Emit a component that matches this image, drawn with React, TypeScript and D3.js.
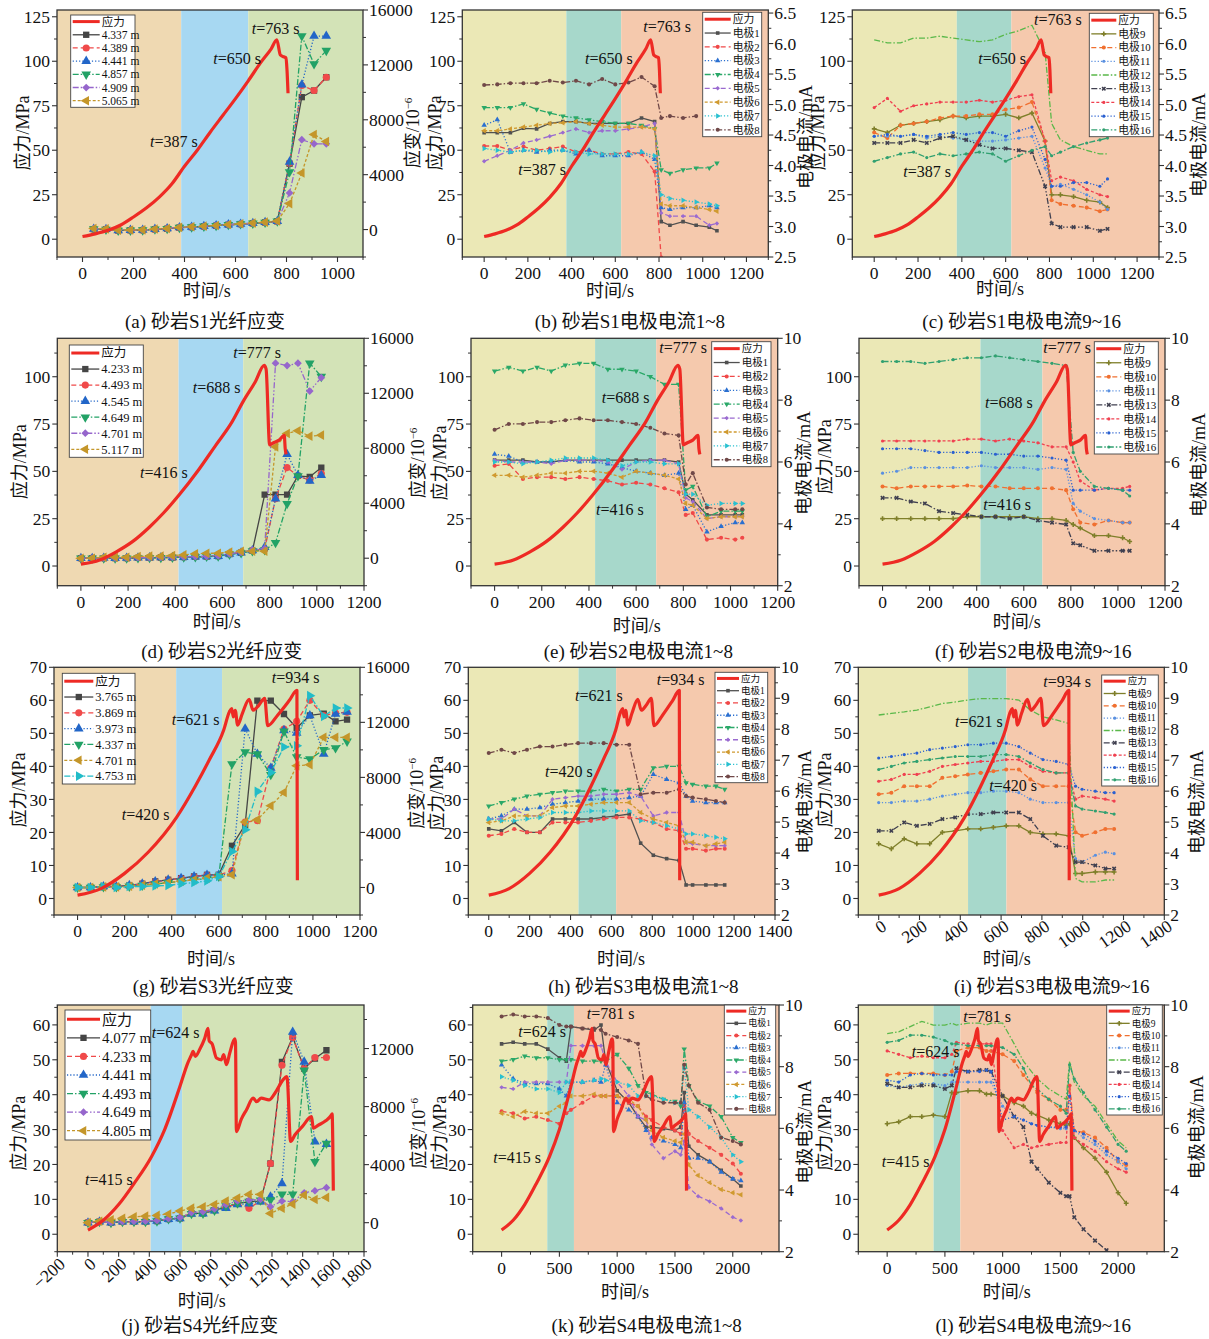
import React from 'react';
import * as d3 from 'd3';

// ---------- stress curves (MPa) ----------
const s1Time = [0, 50, 100, 150, 200, 250, 300, 350, 400, 450, 500, 550, 600, 650, 700, 740, 762, 776, 789, 798, 802, 806];
const s1Stress = [1.5, 3, 5, 8, 12.5, 17.5, 23.5, 31, 41, 50, 60, 69.5, 79, 89, 99.5, 107, 112, 103.5, 102.5, 102, 95, 82];
const s2Time = [0, 80, 150, 220, 290, 350, 416, 500, 570, 640, 688, 740, 777, 785, 800, 815, 840, 862, 866, 870];
const s2Stress = [1, 3.2, 7.5, 13, 20.5, 28, 37.5, 51, 63.5, 76, 87, 97.5, 106, 104, 64, 65, 66.5, 69, 62, 59];
const s3Time = [0, 100, 200, 300, 420, 500, 560, 621, 645, 655, 662, 670, 680, 700, 729, 746, 770, 795, 808, 850, 900, 932, 934];
const s3Stress = [1, 3, 7.6, 14, 24.5, 34, 42, 51, 56.5, 57.5, 55, 57, 52.5, 56, 60.3, 57, 58.5, 60.6, 52.3, 55.5, 60, 63, 5.5];
const s4Time = [0, 100, 200, 300, 415, 500, 600, 650, 675, 685, 700, 729, 760, 783, 790, 810, 838, 870, 885, 903, 925, 957, 962, 968, 1000, 1034, 1077, 1100, 1130, 1180, 1220, 1273, 1295, 1300, 1321, 1350, 1400, 1458, 1469, 1500, 1550, 1588, 1592, 1600];
const s4Stress = [1.2, 4, 8.5, 14.5, 22.3, 30, 42.4, 49, 51.4, 52.4, 51, 53, 56, 59, 55.5, 54.5, 50.5, 50, 51.5, 48.6, 52, 56, 55, 29.4, 33, 35.7, 39, 38, 39, 38.5, 40.5, 44.3, 45.2, 44.5, 26.6, 28.5, 31, 33.7, 30.4, 31.2, 32.5, 34.2, 34.5, 12.5];

// ---------- stage boundaries (s) ----------
const bandA = [387, 650];
const bandB = [376, 627];
const bandC = [377, 626];
const bandD = [414, 688];
const bandE = [426, 685];
const bandF = [416, 679];
const bandG = [419, 614];
const bandH = [439, 623];
const bandI = [438, 626];
const bandJ = [409, 614];
const bandK = [395, 626];
const bandL = [402, 633];

// ---------- fibre strain (10^-6) ----------
const timeA = [44, 92, 140, 188, 236, 284, 332, 380, 428, 476, 524, 572, 620, 668, 716, 764, 812, 860, 908, 956];
const strainA1 = [30, 10, -60, -50, -40, 20, 60, 140, 180, 230, 280, 350, 400, 450, 520, 600, 4800, 9650, 10130, 11100];
const strainA2 = [20, 0, -80, -60, -50, 10, 60, 130, 170, 220, 270, 340, 390, 440, 510, 590, 4850, 10500, 10130, 11100];
const strainA3 = [40, 20, -60, -40, -30, 30, 70, 150, 190, 240, 290, 360, 410, 460, 530, 610, 4930, 10550, 14100, 14100];
const strainA4 = [30, 0, -70, -60, -40, 20, 60, 140, 180, 230, 280, 350, 400, 450, 520, 600, 4200, 14100, 12070, 13040];
const strainA5 = [60, 40, -50, -40, -30, 30, 70, 150, 190, 240, 290, 360, 410, 460, 530, 600, 2670, 6550, 6250, 6250];
const strainA6 = [80, 50, -40, -30, -20, 40, 80, 160, 200, 250, 300, 370, 420, 470, 540, 620, 1890, 4120, 6930, 6420];
const namesA = ['4.337 m', '4.389 m', '4.441 m', '4.857 m', '4.909 m', '5.065 m'];

const timeD = [0, 48, 97, 145, 194, 242, 291, 339, 388, 436, 485, 533, 582, 630, 679, 727, 779, 825, 874, 920, 970, 1019];
const strainD1 = [0, 0, 0, 0, 0, 30, 30, 50, 50, 80, 100, 120, 150, 300, 400, 550, 4623, 4623, 4623, 5985, 5912, 6594];
const strainD2 = [0, 10, 10, 10, 10, 40, 40, 60, 60, 90, 110, 130, 160, 310, 410, 560, 650, 4330, 6594, 5985, 5670, 6155];
const strainD3 = [0, 0, 10, 0, 10, 30, 40, 50, 60, 80, 100, 130, 150, 300, 400, 560, 800, 4330, 7567, 6034, 5620, 6034];
const strainD4 = [0, 0, 0, 0, 0, 20, 30, 40, 50, 70, 90, 120, 140, 280, 380, 520, 600, 1120, 3966, 5985, 14185, 13211];
const strainD5 = [0, 10, 10, 10, 20, 40, 50, 60, 70, 90, 120, 140, 170, 320, 420, 600, 700, 14185, 14014, 14185, 12165, 13138];
const strainD6 = [0, 0, 70, 70, 70, 120, 150, 150, 190, 240, 320, 360, 360, 440, 510, 510, 510, 8102, 9075, 9270, 8880, 8953];
const namesD = ['4.233 m', '4.493 m', '4.545 m', '4.649 m', '4.701 m', '5.117 m'];

const timeG = [0, 55, 110, 165, 220, 275, 330, 385, 440, 495, 550, 600, 656, 712, 764, 821, 877, 931, 987, 1046, 1096, 1145];
const strainG1 = [0, 0, 70, 70, 150, 270, 440, 560, 680, 800, 920, 920, 3030, 4557, 13575, 13575, 12605, 11587, 12508, 12630, 12071, 12193];
const strainG2 = [0, 0, 60, 70, 140, 260, 420, 540, 660, 780, 900, 900, 1236, 4751, 4848, 8678, 11514, 12071, 13600, 12484, 12678, 12726];
const strainG3 = [0, 0, 70, 70, 150, 260, 430, 550, 660, 790, 900, 900, 1000, 11538, 9696, 8678, 11417, 11223, 12500, 9700, 12600, 12750];
const strainG4 = [0, 0, 30, 30, 80, 150, 250, 350, 450, 550, 650, 800, 8969, 9841, 9696, 8193, 11344, 9478, 9332, 10011, 10132, 10617];
const strainG5 = [0, 0, 40, 40, 90, 160, 260, 360, 460, 560, 680, 780, 921, 4751, 4921, 5939, 6908, 8848, 8921, 10908, 10908, 10908];
const strainG6 = [0, 0, 70, 0, 70, 70, 120, 150, 270, 360, 480, 800, 2618, 4194, 6981, 8363, 10205, 10302, 13938, 12435, 13041, 13041];
const namesG = ['3.765 m', '3.869 m', '3.973 m', '4.337 m', '4.701 m', '4.753 m'];

const timeJ = [0, 75, 150, 225, 300, 375, 450, 525, 600, 675, 750, 825, 900, 975, 1050, 1125, 1190, 1265, 1335, 1410, 1480, 1555];
const strainJ1 = [0, 70, 0, 70, 70, 70, 115, 250, 300, 640, 640, 870, 1050, 1330, 1440, 1490, 4080, 11080, 12800, 10620, 11310, 11880];
const strainJ2 = [0, 60, 10, 60, 60, 80, 120, 260, 320, 650, 660, 880, 1060, 1300, 990, 1500, 4080, 10850, 12760, 10620, 11380, 11380];
const strainJ3 = [0, 60, 0, 60, 60, 70, 110, 240, 290, 600, 620, 820, 1000, 1250, 1300, 1450, 1790, 2700, 13140, 11080, 5570, 5410];
const strainJ4 = [0, 60, 0, 60, 60, 70, 110, 250, 300, 620, 640, 850, 1150, 1350, 1450, 1550, 1560, 1950, 1950, 10500, 4200, 5460];
const strainJ5 = [0, 70, 20, 80, 90, 100, 150, 280, 350, 700, 760, 950, 1250, 1500, 1550, 1600, 1100, 1490, 1450, 2060, 2200, 2410];
const strainJ6 = [0, 100, 200, 300, 410, 450, 500, 600, 800, 1000, 1100, 1250, 1490, 1700, 1950, 1950, 640, 990, 1280, 1900, 1600, 1740];
const namesJ = ['4.077 m', '4.233 m', '4.441 m', '4.493 m', '4.649 m', '4.805 m'];

// ---------- electrode current (mA) ----------
const timeB = [0, 60, 120, 180, 240, 300, 360, 420, 480, 540, 600, 660, 720, 780, 810, 850, 910, 970, 1030, 1065];
const curB1 = [4.54, 4.54, 4.54, 4.61, 4.60, 4.69, 4.72, 4.72, 4.69, 4.69, 4.69, 4.69, 4.78, 4.72, 3.08, 3.02, 3.08, 3.02, 2.99, 2.93];
const curB2 = [4.32, 4.32, 4.25, 4.31, 4.25, 4.28, 4.31, 4.22, 4.25, 4.19, 4.19, 4.22, 4.19, 3.90, 2.49, null, null, null, null, null];
const curB3 = [4.66, 4.75, 4.22, 4.25, 4.22, 4.25, 4.25, 4.19, 4.25, 4.16, 4.16, 4.16, 4.22, 4.10, 3.31, 3.28, 3.31, 3.31, 3.34, 3.31];
const curB4 = [4.95, 4.95, 4.95, 5.01, 4.92, 4.86, 4.81, 4.78, 4.75, 4.72, 4.69, 4.69, 4.66, 4.60, 3.93, 3.87, 3.93, 3.96, 3.96, 4.04];
const curB5 = [4.07, 4.16, 4.25, 4.37, 4.42, 4.48, 4.54, 4.60, 4.54, 4.57, 4.57, 4.60, 4.63, 4.69, 3.22, 3.17, 3.17, 3.17, 3.02, 3.05];
const curB6 = [4.57, 4.57, 4.60, 4.63, 4.66, 4.69, 4.70, 4.72, 4.69, 4.66, 4.63, 4.63, 4.63, 4.60, 3.37, 3.34, 3.34, 3.31, 3.28, 3.25];
const curB7 = [4.28, 4.25, 4.22, 4.25, 4.25, 4.22, 4.25, 4.22, 4.19, 4.19, 4.19, 4.19, 4.22, 4.16, 3.52, 3.46, 3.43, 3.40, 3.37, 3.34];
const curB8 = [5.32, 5.33, 5.35, 5.35, 5.35, 5.39, 5.36, 5.39, 5.33, 5.42, 5.33, 5.36, 5.45, 5.30, 4.78, 4.81, 4.78, 4.81, null, null];

const curC9 = [4.60, 4.54, 4.66, 4.69, 4.72, 4.75, 4.81, 4.78, 4.81, 4.81, 4.84, 4.78, 4.86, 4.40, 3.52, 3.52, 3.49, 3.43, 3.40, 3.31];
const curC10 = [4.54, 4.45, 4.66, 4.69, 4.72, 4.78, 4.81, 4.81, 4.84, 4.84, 4.92, 4.95, 5.04, 4.40, 3.43, 3.37, 3.34, 3.31, 3.25, 3.28];
const curC11 = [4.48, 4.48, 4.48, 4.51, 4.45, 4.48, 4.45, 4.42, 4.40, 4.40, 4.42, 4.45, 4.48, 3.96, 3.66, 3.69, 3.61, 3.52, 3.40, 3.28];
const curC12 = [6.06, 6.01, 6.01, 6.09, 6.09, 6.12, 6.09, 6.06, 6.03, 6.06, 6.15, 6.21, 6.30, 5.86, 4.69, 4.42, 4.31, 4.25, 4.19, 4.19];
const curC13 = [4.37, 4.37, 4.37, 4.42, 4.37, 4.45, 4.48, 4.42, 4.34, 4.28, 4.28, 4.25, 4.22, 3.66, 3.05, 2.99, 2.99, 2.99, 2.93, 2.96];
const curC14 = [4.95, 5.10, 4.89, 4.98, 5.01, 5.04, 5.04, 5.04, 5.07, 5.04, 5.07, 5.13, 5.16, 4.40, 3.75, 3.81, 3.75, 3.61, 3.52, 3.49];
const curC15 = [4.48, 4.51, 4.48, 4.51, 4.48, 4.51, 4.54, 4.51, 4.54, 4.54, 4.48, 4.57, 4.63, 4.10, 3.66, 3.66, 3.72, 3.72, 3.66, 3.78];
const curC16 = [4.07, 4.13, 4.19, 4.22, 4.13, 4.19, 4.16, 4.19, 4.22, 4.19, 4.07, 4.16, 4.25, 4.31, 4.16, 4.22, 4.31, 4.37, 4.42, 4.45];

const timeE = [0, 60, 120, 180, 240, 300, 360, 420, 480, 540, 600, 660, 720, 780, 810, 840, 900, 960, 1020, 1050];
const curE1 = [6.06, 6.06, 6.06, 6.00, 6.00, 6.06, 6.06, 6.06, 6.06, 6.06, 6.06, 6.06, 6.06, 6.00, 4.96, 4.78, 4.29, 4.29, 4.29, 4.29];
const curE2 = [5.88, 5.94, 5.45, 5.51, 5.51, 5.45, 5.51, 5.45, 5.39, 5.27, 5.33, 5.27, 5.15, 5.02, 4.29, 4.35, 3.49, 3.55, 3.49, 3.55];
const curE3 = [6.25, 6.19, 6.00, 6.00, 6.00, 6.06, 6.00, 6.00, 5.94, 5.82, 5.70, 5.64, 5.57, 5.64, 4.47, 4.60, 3.74, 3.92, 4.04, 4.04];
const curE4 = [8.94, 9.06, 8.94, 9.06, 8.94, 9.13, 9.19, 9.19, 9.00, 9.00, 8.94, 8.76, 8.51, 8.51, 5.09, 5.21, 4.23, 4.41, 4.41, 4.41];
const curE5 = [6.06, 6.00, 6.00, 6.00, 5.94, 6.06, 6.06, 6.06, 6.00, 5.76, 6.00, 6.06, 6.06, 5.94, 4.84, 4.72, 4.17, 4.23, 4.23, 4.23];
const curE6 = [5.57, 5.57, 5.51, 5.57, 5.64, 5.64, 5.70, 5.70, 5.64, 5.51, 5.70, 5.64, 5.57, 5.45, 4.66, 4.60, 4.17, 4.23, 4.23, 4.23];
const curE7 = [6.00, 6.00, 5.94, 6.00, 6.06, 6.13, 6.13, 6.13, 6.06, 5.88, 6.00, 6.00, 5.94, 5.94, 4.96, 4.96, 4.60, 4.66, 4.66, 4.66];
const curE8 = [7.04, 7.23, 7.23, 7.29, 7.29, 7.35, 7.41, 7.35, 7.35, 7.29, 7.23, 7.11, 6.92, 6.86, 5.27, 5.64, 4.53, 4.47, 4.47, 4.47];

const curF9 = [4.17, 4.17, 4.17, 4.17, 4.17, 4.17, 4.23, 4.23, 4.23, 4.23, 4.23, 4.17, 4.17, 4.11, 3.98, 3.86, 3.62, 3.62, 3.55, 3.43];
const curF10 = [5.21, 5.15, 5.21, 5.21, 5.21, 5.21, 5.24, 5.21, 5.21, 5.15, 5.15, 5.15, 5.15, 5.09, 4.47, 4.04, 3.98, 4.11, 4.04, 4.04];
const curF11 = [5.64, 5.70, 5.82, 5.82, 5.82, 5.82, 5.82, 5.88, 5.82, 5.82, 5.82, 5.76, 5.82, 5.76, 4.66, 4.41, 4.17, 4.11, 4.04, 4.04];
const curF13 = [4.84, 4.84, 4.72, 4.66, 4.41, 4.35, 4.29, 4.23, 4.23, 4.17, 4.23, 4.11, 4.04, 3.98, 3.37, 3.31, 3.13, 3.13, 3.13, 3.13];
const curF14 = [6.68, 6.68, 6.68, 6.68, 6.68, 6.68, 6.74, 6.74, 6.68, 6.74, 6.68, 6.62, 6.49, 6.49, 6.00, 5.39, 5.09, 5.15, 5.15, 5.21];
const curF15 = [6.43, 6.43, 6.43, 6.37, 6.31, 6.31, 6.31, 6.31, 6.25, 6.25, 6.19, 6.19, 6.13, 6.06, 5.09, 5.09, 5.09, 5.15, 5.09, 5.09];
const curF16 = [9.25, 9.25, 9.25, 9.19, 9.25, 9.31, 9.37, 9.37, 9.43, 9.37, 9.31, 9.25, 9.19, 9.12, 6.31, 5.70, 5.21, 5.15, 5.09, 4.90];

const timeH = [0, 62, 125, 187, 250, 312, 375, 437, 500, 562, 625, 687, 743, 805, 870, 931, 965, 997, 1062, 1111, 1154];
const curH1 = [4.78, 4.72, 4.99, 4.67, 4.67, 5.10, 5.10, 5.10, 5.10, 5.15, 5.20, 5.26, 4.32, 3.93, 3.82, 3.76, 2.97, 2.97, 2.97, 2.97, 2.97];
const curH2 = [4.56, 4.62, 4.78, 4.67, 4.67, 4.99, 4.99, 4.99, 5.04, 5.10, 5.15, 5.15, 5.10, 4.99, 4.78, 4.72, 4.14, 4.14, 4.08, 4.14, 4.14];
const curH3 = [5.10, 5.20, 5.42, 5.42, 5.47, 5.58, 5.63, 5.68, 5.74, 5.74, 5.74, 5.79, 5.84, 6.54, 6.38, 6.27, 5.84, 5.68, 5.63, 5.63, 5.63];
const curH4 = [5.52, 5.63, 5.74, 5.84, 5.90, 5.95, 6.00, 6.00, 6.00, 6.06, 6.00, 6.06, 6.06, 6.75, 6.80, 6.80, 6.27, 6.22, 6.16, 6.16, 6.06];
const curH5 = [5.10, 5.10, 5.42, 5.20, 5.20, 5.74, 5.79, 5.84, 5.84, 5.90, 5.90, 5.95, 5.84, 5.20, 5.31, 5.31, 4.35, 4.30, 4.24, 4.24, 4.24];
const curH6 = [4.99, 5.04, 5.20, 5.20, 5.20, 5.47, 5.52, 5.52, 5.58, 5.63, 5.63, 5.63, 5.31, 5.10, 4.99, 4.88, 4.35, 4.35, 4.24, 4.30, 4.35];
const curH7 = [5.10, 5.04, 5.04, 5.10, 5.15, 5.31, 5.31, 5.31, 5.36, 5.36, 5.36, 5.36, 5.04, 4.99, 4.88, 4.78, 4.62, 4.62, 4.56, 4.51, 4.46];
const curH8 = [7.23, 7.34, 7.23, 7.34, 7.44, 7.44, 7.50, 7.55, 7.55, 7.55, 7.50, 7.50, 5.90, 5.95, 5.95, 6.06, 5.84, 5.79, 5.74, 5.68, 5.63];

const curI9 = [4.30, 4.14, 4.46, 4.30, 4.30, 4.67, 4.72, 4.78, 4.78, 4.83, 4.88, 4.88, 4.67, 4.62, 4.62, 4.56, 3.34, 3.34, 3.39, 3.39, 3.39];
const curI10 = [5.90, 5.95, 6.16, 6.16, 6.16, 6.43, 6.48, 6.54, 6.59, 6.64, 6.70, 6.70, 6.38, 6.16, 6.16, 6.16, 4.67, 4.56, 4.67, 4.78, 4.78];
const curI11 = [5.63, 5.63, 5.68, 5.68, 5.74, 5.84, 5.90, 5.95, 5.95, 6.00, 6.00, 5.95, 5.74, 5.63, 5.63, 5.63, 3.82, 3.71, 3.93, 4.03, 3.98];
const curI12 = [8.46, 8.51, 8.56, 8.62, 8.72, 8.83, 8.88, 8.94, 8.99, 8.99, 8.99, 8.94, 8.62, 8.40, 8.30, 8.19, 3.18, 3.07, 3.07, 3.13, 3.13];
const curI13 = [4.72, 4.72, 4.99, 4.88, 4.94, 5.10, 5.15, 5.26, 5.26, 5.31, 5.31, 5.31, 5.10, 4.56, 4.24, 4.19, 3.71, 3.71, 3.60, 3.50, 3.50];
const curI14 = [6.32, 6.38, 6.54, 6.54, 6.64, 6.80, 6.86, 6.91, 6.96, 6.96, 7.02, 7.02, 6.80, 6.64, 6.59, 6.59, 5.74, 5.84, 5.79, 5.74, 5.68];
const curI15 = [7.07, 7.12, 7.18, 7.23, 7.34, 7.39, 7.44, 7.50, 7.50, 7.55, 7.55, 7.44, 7.23, 7.02, 6.96, 6.86, 6.16, 6.06, 6.00, 5.95, 5.95];
const curI16 = [6.70, 6.80, 6.91, 6.96, 7.02, 7.07, 7.12, 7.12, 7.12, 7.18, 7.18, 7.12, 6.91, 6.70, 6.59, 6.59, 5.52, 5.42, 5.36, 5.31, 5.26];

const timeK = [0, 100, 200, 300, 400, 500, 560, 600, 700, 800, 860, 900, 1000, 1100, 1180, 1250, 1300, 1400, 1500, 1550, 1580, 1620, 1700, 1800, 1900, 2000, 2070];
const curK1 = [8.74, 8.79, 8.74, 8.74, 8.57, 8.29, 8.18, 9.30, 9.24, 9.19, 9.35, 8.18, 7.22, 6.83, 6.38, 6.04, 6.04, 5.99, 5.93, 6.04, 7.16, 5.42, 5.14, 4.92, 4.64, 4.36, 4.13];
const curK2 = [6.55, 6.49, 6.32, 6.38, 6.27, 6.15, 6.49, 6.60, 6.83, 7.05, 7.05, 7.05, 7.05, 6.83, 6.72, 6.38, 6.27, 6.04, 5.93, 5.82, 6.72, 5.82, 5.59, 5.37, 5.14, 4.86, 4.53];
const curK3 = [8.06, 7.61, 7.45, 7.45, 7.45, 7.28, 7.05, 7.50, 7.50, 7.56, 7.50, 8.06, 6.83, 6.60, 6.38, 5.93, 5.70, 5.59, 5.48, 5.37, 6.83, 5.03, 5.03, 4.92, 4.58, 4.36, 4.30];
const curK4 = [8.18, 8.23, 8.34, 8.29, 8.29, 8.23, 8.23, 8.23, 8.18, 8.18, 8.18, 8.18, 8.40, 7.95, 7.39, 7.16, 7.11, 6.94, 6.88, 6.72, 8.57, 7.39, 6.88, 6.72, 6.38, 5.70, 5.54];
const curK5 = [7.33, 7.28, 7.50, 7.50, 7.50, 7.50, 7.50, 8.68, 8.68, 8.68, 8.68, 8.18, 7.50, 7.05, 6.38, 6.27, 5.48, 5.03, 5.26, 5.14, 5.59, 4.08, 3.80, 3.63, 3.40, 3.12, 3.01];
const curK6 = [6.49, 6.38, 6.55, 6.49, 6.49, 6.72, 6.83, 7.05, 7.05, 7.11, 7.05, 7.05, 7.05, 6.94, 6.72, 6.27, 5.93, 5.70, 5.59, 5.54, 5.82, 4.81, 4.47, 4.24, 4.02, 3.91, 3.85];
const curK7 = [7.67, 7.56, 7.39, 7.28, 7.28, 7.16, 7.50, 7.50, 7.50, 7.56, 7.61, 7.56, 7.50, 7.39, 7.05, 7.05, 7.05, 6.94, 6.83, 6.83, 7.95, 6.60, 6.38, 6.04, 5.70, 5.14, 4.92];
const curK8 = [9.63, 9.69, 9.63, 9.63, 9.58, 9.35, 9.30, 9.30, 9.24, 9.24, 9.19, 9.07, 8.96, 8.85, 8.74, 7.05, 6.94, 6.83, 6.83, 6.83, 8.06, 7.39, 6.83, 6.60, 5.70, 5.59, 5.48];

const curL9 = [6.15, 6.21, 6.38, 6.38, 6.43, 6.38, 7.16, 7.16, 7.22, 7.22, 7.11, 7.11, 7.05, 6.83, 6.72, 6.49, 6.43, 6.27, 6.15, 6.10, 6.15, 5.70, 5.37, 5.03, 4.58, 3.91, 3.57];
const curL10 = [7.73, 7.78, 7.78, 7.78, 7.78, 7.73, 7.84, 8.51, 8.62, 8.62, 8.51, 8.51, 8.40, 8.18, 7.73, 7.39, 7.16, 6.94, 6.60, 6.60, 7.39, 5.93, 5.87, 5.70, 5.37, 4.92, 4.81];
const curL11 = [7.39, 7.33, 7.39, 7.45, 7.45, 7.39, 7.50, 7.50, 7.50, 7.50, 7.50, 7.50, 6.72, 6.38, 6.27, 6.15, 6.10, 6.04, 5.99, 5.99, 6.38, 5.93, 5.70, 5.48, 5.14, 4.92, 4.69];
const curL12 = [9.07, 9.13, 9.30, 9.47, 9.35, 9.35, 9.41, 9.35, 9.41, 9.41, 9.35, 9.41, 9.41, 8.74, 8.18, 7.84, 7.61, 7.28, 7.05, 6.94, 8.18, 7.50, 7.05, 6.72, 6.15, 5.59, 5.37];
const curL13 = [7.45, 7.33, 7.33, 7.39, 7.39, 7.28, 7.39, 7.95, 7.84, 7.89, 7.89, 7.84, 7.05, 6.38, 6.04, 4.92, 4.69, 4.24, 3.91, 3.80, 3.80, 3.12, 2.73, 2.36, 2.05, null, null];
const curL14 = [8.51, 8.40, 8.29, 8.34, 8.29, 8.29, 8.40, 8.79, 8.74, 8.74, 8.74, 8.74, 5.93, 5.37, 5.48, 5.37, 5.42, 5.48, 5.54, 5.54, 7.39, 5.70, 5.48, 5.26, 4.92, 4.69, 4.58];
const curL15 = [7.56, 7.50, 7.73, 7.78, 7.73, 7.73, 7.73, 7.84, 7.84, 7.84, 7.89, 7.84, 6.27, 6.38, 6.27, 6.15, 6.10, 6.04, 6.04, 6.04, 7.05, 5.93, 5.82, 5.59, 5.26, 5.03, 4.86];
const curL16 = [8.79, 8.85, 9.02, 9.02, 8.96, 8.85, 8.74, 8.74, 8.68, 8.68, 8.68, 8.68, 8.62, 8.40, 7.95, 7.39, 7.28, 6.94, 6.72, 6.49, 8.06, 7.61, 7.16, 6.60, 6.04, 5.48, 5.26];

// ---------- axis ticks ----------
const ticks1000 = [0, 200, 400, 600, 800, 1000];
const ticks1200 = [0, 200, 400, 600, 800, 1000, 1200];
const ticks1400 = [0, 200, 400, 600, 800, 1000, 1200, 1400];
const ticksJ = [-200, 0, 200, 400, 600, 800, 1000, 1200, 1400, 1600, 1800];
const ticks2000 = [0, 500, 1000, 1500, 2000];
const stress125 = [0, 25, 50, 75, 100, 125];
const stress100 = [0, 25, 50, 75, 100];
const stress70 = [0, 10, 20, 30, 40, 50, 60, 70];
const stress60 = [0, 10, 20, 30, 40, 50, 60];
const strain16k = [0, 4000, 8000, 12000, 16000];
const strain12k = [0, 4000, 8000, 12000];
const cur65 = [2.5, 3, 3.5, 4, 4.5, 5, 5.5, 6, 6.5];
const cur10by2 = [2, 4, 6, 8, 10];
const cur10by1 = [2, 3, 4, 5, 6, 7, 8, 9, 10];

// ---------- styles ----------
const FONT = '"Liberation Serif","Noto Sans CJK SC",serif';
const RED = '#ee2a24';
const WARM = ['#efd9b2', '#a7d8f2', '#d3e3b7'];
const COOL = ['#ebe8b6', '#a7d8cb', '#f5c9ad'];
const DASH: Record<string, string | undefined> = {
  solid: undefined, dash: '5,3', dot: '1.2,2', dashdot: '6,2,1.5,2',
  dashdotdot: '6,2,1.5,2,1.5,2', short: '3,2',
};
type Style = { color: string; dash: string; marker: string };
const SS: Record<string, Style> = {
  black: { color: '#454545', dash: 'solid', marker: 'square' },
  red: { color: '#f04a4a', dash: 'dash', marker: 'circle' },
  blue: { color: '#2266c8', dash: 'dot', marker: 'up' },
  green: { color: '#22a266', dash: 'dashdot', marker: 'down' },
  purple: { color: '#9666cc', dash: 'dashdotdot', marker: 'diamond' },
  yellow: { color: '#c4962a', dash: 'short', marker: 'left' },
  cyan: { color: '#22bcc8', dash: 'dashdot', marker: 'right' },
};
const ES: Record<number, Style> = {
  1: { color: '#505050', dash: 'solid', marker: 'square' },
  2: { color: '#f04848', dash: 'dash', marker: 'circle' },
  3: { color: '#2a6fd0', dash: 'dot', marker: 'up' },
  4: { color: '#2aa868', dash: 'dashdot', marker: 'down' },
  5: { color: '#9a6ad0', dash: 'dash', marker: 'diamond' },
  6: { color: '#d09a30', dash: 'short', marker: 'left' },
  7: { color: '#28c0d0', dash: 'dot', marker: 'right' },
  8: { color: '#704848', dash: 'dashdot', marker: 'circle' },
  9: { color: '#7f7f2a', dash: 'solid', marker: 'plus' },
  10: { color: '#f07030', dash: 'dash', marker: 'circle' },
  11: { color: '#5a90e0', dash: 'dot', marker: 'dot' },
  12: { color: '#5ab84a', dash: 'dashdot', marker: 'none' },
  13: { color: '#404050', dash: 'dashdotdot', marker: 'x' },
  14: { color: '#f04050', dash: 'short', marker: 'dot' },
  15: { color: '#2a60d0', dash: 'dot', marker: 'dot' },
  16: { color: '#30a070', dash: 'dashdot', marker: 'dot' },
};

type Ser = { name: string; t: number[]; v: (number | null)[]; st: Style };
const strainSet = (t: number[], names: string[], vals: number[][], keys: string[]): Ser[] =>
  vals.map((v, i) => ({ name: names[i], t, v, st: SS[keys[i]] }));
const elecSet = (t: number[], nums: number[], vals: (number | null)[][]): Ser[] =>
  vals.map((v, i) => ({ name: '电极' + nums[i], t, v, st: ES[nums[i]] }));

const K6 = ['black', 'red', 'blue', 'green', 'purple', 'yellow'];
const fmtInt = d3.format('d');
const fmt1 = d3.format('.1f');

type Cfg = {
  id: string; box: number[];
  xd: number[]; xt: number[]; xm: number; xrot?: number;
  yd: number[]; yt: number[]; ym: number;
  rd: number[]; rt: number[]; rm: number; rf: (n: number) => string;
  band: number[]; bandCol: string[];
  st: number[]; sv: number[]; ser: Ser[]; mk: number;
  leg: number[]; notes: [string, number, number][];
  xl: number[]; cap: [string, number, number];
  ll: [string, number, number, boolean][]; rl?: number[];
};

const panels: Cfg[] = [
  {
    id: 'a', box: [57, 10, 363, 257], xd: [-100, 1100], xt: ticks1000, xm: 100,
    yd: [-10, 128.8], yt: stress125, ym: 12.5, rd: [-2000, 16000], rt: strain16k, rm: 2000, rf: fmtInt,
    band: bandA, bandCol: WARM, st: s1Time, sv: s1Stress, mk: 40,
    ser: strainSet(timeA, namesA, [strainA1, strainA2, strainA3, strainA4, strainA5, strainA6], K6),
    leg: [70.7, 15, 64.3, 92.3, 11.5, 29], notes: [['763', 251.7, 34], ['650', 213.3, 64], ['387', 150, 147]],
    xl: [206.7, 296.7], cap: ['(a) 砂岩S1光纤应变', 205, 328], ll: [['应力/MPa', 23, 133, false]],
  },
  {
    id: 'b', box: [462.3, 10, 768.3, 257], xd: [-100, 1300], xt: ticks1200, xm: 100,
    yd: [-10, 128.8], yt: stress125, ym: 12.5, rd: [2.5, 6.55], rt: cur65, rm: 0.25, rf: fmt1,
    band: bandB, bandCol: COOL, st: s1Time, sv: s1Stress, mk: 13,
    ser: elecSet(timeB, [1, 2, 3, 4, 5, 6, 7, 8], [curB1, curB2, curB3, curB4, curB5, curB6, curB7, curB8]),
    leg: [702.7, 12.3, 59, 124.4, 10.8, 28], notes: [['763', 643.3, 32], ['650', 585, 64], ['387', 518.3, 175]],
    xl: [610, 296.7], cap: ['(b) 砂岩S1电极电流1~8', 630, 328],
    ll: [['应变/10', 413, 133, true], ['应力/MPa', 435, 133, false]], rl: [806, 137],
  },
  {
    id: 'c', box: [852.3, 10, 1159, 257], xd: [-100, 1300], xt: ticks1200, xm: 100,
    yd: [-10, 128.8], yt: stress125, ym: 12.5, rd: [2.5, 6.55], rt: cur65, rm: 0.25, rf: fmt1,
    band: bandC, bandCol: COOL, st: s1Time, sv: s1Stress, mk: 13,
    ser: elecSet(timeB, [9, 10, 11, 12, 13, 14, 15, 16], [curC9, curC10, curC11, curC12, curC13, curC14, curC15, curC16]),
    leg: [1089.3, 13.3, 64, 123.4, 10.8, 27], notes: [['763', 1034, 25], ['650', 978.3, 64], ['387', 903.3, 177]],
    xl: [1000, 295], cap: ['(c) 砂岩S1电极电流9~16', 1021.7, 328],
    ll: [['应力/MPa', 818, 133, false]], rl: [1199, 145],
  },
  {
    id: 'd', box: [57.3, 338.3, 364, 585.7], xd: [-100, 1200], xt: ticks1200, xm: 100,
    yd: [-10.4, 120.3], yt: stress100, ym: 12.5, rd: [-2000, 16000], rt: strain16k, rm: 2000, rf: fmtInt,
    band: bandD, bandCol: WARM, st: s2Time, sv: s2Stress, mk: 40,
    ser: strainSet(timeD, namesD, [strainD1, strainD2, strainD3, strainD4, strainD5, strainD6], K6),
    leg: [69.3, 345, 74, 112.3, 12.5, 30], notes: [['777', 233.3, 358.3], ['688', 192.7, 393.3], ['416', 140, 478.3]],
    xl: [216.7, 628.3], cap: ['(d) 砂岩S2光纤应变', 221.7, 658.3], ll: [['应力/MPa', 20, 461.7, false]],
  },
  {
    id: 'e', box: [471, 338.3, 777.7, 585.7], xd: [-100, 1200], xt: ticks1200, xm: 100,
    yd: [-10.4, 120.3], yt: stress100, ym: 12.5, rd: [2, 10], rt: cur10by2, rm: 1, rf: fmtInt,
    band: bandE, bandCol: COOL, st: s2Time, sv: s2Stress, mk: 13,
    ser: elecSet(timeE, [1, 2, 3, 4, 5, 6, 7, 8], [curE1, curE2, curE3, curE4, curE5, curE6, curE7, curE8]),
    leg: [711.7, 341.7, 59.3, 125, 10.5, 28], notes: [['777', 659.3, 353.3], ['688', 601.7, 403.3], ['416', 596, 515]],
    xl: [636.7, 631.7], cap: ['(e) 砂岩S2电极电流1~8', 638.3, 658.3],
    ll: [['应变/10', 418, 463, true], ['应力/MPa', 440, 463, false]], rl: [804, 463],
  },
  {
    id: 'f', box: [859, 338.3, 1165, 585.7], xd: [-100, 1200], xt: ticks1200, xm: 100,
    yd: [-10.4, 120.3], yt: stress100, ym: 12.5, rd: [2, 10], rt: cur10by2, rm: 1, rf: fmtInt,
    band: bandF, bandCol: COOL, st: s2Time, sv: s2Stress, mk: 13,
    ser: elecSet(timeE, [9, 10, 11, 13, 14, 15, 16], [curF9, curF10, curF11, curF13, curF14, curF15, curF16]),
    leg: [1094.3, 341.7, 64, 112.3, 11, 27], notes: [['777', 1043.3, 353.3], ['688', 985, 408.3], ['416', 983.3, 510]],
    xl: [1016.7, 628.3], cap: ['(f) 砂岩S2电极电流9~16', 1033.3, 658.3],
    ll: [['应力/MPa', 825, 456.7, false]], rl: [1199, 465],
  },
  {
    id: 'g', box: [54, 667.3, 360, 915], xd: [-100, 1200], xt: ticks1200, xm: 100,
    yd: [-5, 70], yt: stress70, ym: 5, rd: [-2000, 16000], rt: strain16k, rm: 2000, rf: fmtInt,
    band: bandG, bandCol: WARM, st: s3Time, sv: s3Stress, mk: 40,
    ser: strainSet(timeG, namesG, [strainG1, strainG2, strainG3, strainG4, strainG5, strainG6],
      ['black', 'red', 'blue', 'green', 'yellow', 'cyan']),
    leg: [62.3, 673.3, 72.7, 110.7, 12.5, 31], notes: [['934', 271.7, 683.3], ['621', 171.7, 725], ['420', 121.7, 820]],
    xl: [211, 965], cap: ['(g) 砂岩S3光纤应变', 213.3, 993.3], ll: [['应力/MPa', 18.3, 790, false]],
  },
  {
    id: 'h', box: [468.3, 667.3, 775, 915], xd: [-100, 1400], xt: ticks1400, xm: 100,
    yd: [-5, 70], yt: stress70, ym: 5, rd: [2, 10], rt: cur10by1, rm: 0.5, rf: fmtInt,
    band: bandH, bandCol: COOL, st: s3Time, sv: s3Stress, mk: 13,
    ser: elecSet(timeH, [1, 2, 3, 4, 5, 6, 7, 8], [curH1, curH2, curH3, curH4, curH5, curH6, curH7, curH8]),
    leg: [715, 672.3, 52.7, 110.4, 9.5, 24], notes: [['934', 656.7, 685], ['621', 575, 700.7], ['420', 545, 777.3]],
    xl: [621, 965], cap: ['(h) 砂岩S3电极电流1~8', 643.3, 993.3],
    ll: [['应变/10', 416.7, 793.3, true], ['应力/MPa', 437, 793.3, false]], rl: [805, 801.7],
  },
  {
    id: 'i', box: [858.3, 667.3, 1164.3, 915], xd: [-100, 1400], xt: ticks1400, xm: 100, xrot: -35,
    yd: [-5, 70], yt: stress70, ym: 5, rd: [2, 10], rt: cur10by1, rm: 0.5, rf: fmtInt,
    band: bandI, bandCol: COOL, st: s3Time, sv: s3Stress, mk: 13,
    ser: elecSet(timeH, [9, 10, 11, 12, 13, 14, 15, 16], [curI9, curI10, curI11, curI12, curI13, curI14, curI15, curI16]),
    leg: [1101.7, 675, 56.6, 111, 9.5, 24], notes: [['934', 1043.3, 686.7], ['621', 955, 726.7], ['420', 989.3, 790.7]],
    xl: [1006.7, 965], cap: ['(i) 砂岩S3电极电流9~16', 1051.7, 993.3],
    ll: [['应力/MPa', 825, 790, false]], rl: [1197, 802],
  },
  {
    id: 'j', box: [57.3, 1005, 364, 1251.7], xd: [-200, 1800], xt: ticksJ, xm: 100, xrot: -42,
    yd: [-5, 65.7], yt: stress60, ym: 5, rd: [-2000, 15000], rt: strain12k, rm: 2000, rf: fmtInt,
    band: bandJ, bandCol: WARM, st: s4Time, sv: s4Stress, mk: 40,
    ser: strainSet(timeJ, namesJ, [strainJ1, strainJ2, strainJ3, strainJ4, strainJ5, strainJ6], K6),
    leg: [65, 1010, 85.7, 130, 15, 35], notes: [['624', 151.7, 1038.3], ['415', 85, 1185]],
    xl: [201.7, 1306.7], cap: ['(j) 砂岩S4光纤应变', 200, 1331.7], ll: [['应力/MPa', 18.3, 1133.3, false]],
  },
  {
    id: 'k', box: [472.7, 1005, 779, 1251.7], xd: [-250, 2400], xt: ticks2000, xm: 250,
    yd: [-5, 65.7], yt: stress60, ym: 5, rd: [2, 10], rt: cur10by2, rm: 1, rf: fmtInt,
    band: bandK, bandCol: COOL, st: s4Time, sv: s4Stress, mk: 13,
    ser: elecSet(timeK, [1, 2, 3, 4, 5, 6, 7, 8], [curK1, curK2, curK3, curK4, curK5, curK6, curK7, curK8]),
    leg: [724.3, 1005, 51.4, 110, 9, 22], notes: [['781', 586.7, 1019.3], ['624', 518.3, 1036.7], ['415', 493.3, 1163.3]],
    xl: [625, 1298.3], cap: ['(k) 砂岩S4电极电流1~8', 646.7, 1331.7],
    ll: [['应变/10', 418.3, 1133.3, true], ['应力/MPa', 440, 1133.3, false]], rl: [805, 1131.7],
  },
  {
    id: 'l', box: [858.3, 1005, 1164.3, 1251.7], xd: [-250, 2400], xt: ticks2000, xm: 250,
    yd: [-5, 65.7], yt: stress60, ym: 5, rd: [2, 10], rt: cur10by2, rm: 1, rf: fmtInt,
    band: bandL, bandCol: COOL, st: s4Time, sv: s4Stress, mk: 13,
    ser: elecSet(timeK, [9, 10, 11, 12, 13, 14, 15, 16], [curL9, curL10, curL11, curL12, curL13, curL14, curL15, curL16]),
    leg: [1106.7, 1005, 55.6, 110, 9.5, 23], notes: [['781', 963.3, 1021.7], ['624', 911.7, 1056.7], ['415', 881.7, 1166.7]],
    xl: [1006.7, 1298.3], cap: ['(l) 砂岩S4电极电流9~16', 1033.3, 1331.7],
    ll: [['应力/MPa', 825, 1133.3, false]], rl: [1197, 1127.3],
  },
];

const SYM: Record<string, d3.SymbolType> = {
  square: d3.symbolSquare, circle: d3.symbolCircle, up: d3.symbolTriangle, down: d3.symbolTriangle,
  left: d3.symbolTriangle, right: d3.symbolTriangle, diamond: d3.symbolSquare, plus: d3.symbolCross,
  x: d3.symbolCross, dot: d3.symbolCircle,
};
const ROT: Record<string, number> = { down: 180, left: -90, right: 90, x: 45, diamond: 45 };

function Marker({ kind, x, y, size, color }: { kind: string; x: number; y: number; size: number; color: string }) {
  if (kind === 'none') return null;
  const s = kind === 'dot' ? size * 0.6 : kind === 'diamond' ? size * 0.75 : size;
  const d = d3.symbol().type(SYM[kind]).size(s)() || '';
  return <path d={d} transform={`translate(${x},${y}) rotate(${ROT[kind] || 0})`} fill={color} />;
}

const minorTicks = (dom: number[], step: number, major: number[]) =>
  d3.range(Math.ceil(dom[0] / step - 1e-9) * step, dom[1] + 1e-9, step)
    .filter(v => !major.some(m => Math.abs(m - v) < 1e-9));

function Panel({ c }: { c: Cfg }) {
  const [x0, y0, x1, y1] = c.box;
  const x = d3.scaleLinear().domain(c.xd).range([x0, x1]);
  const y = d3.scaleLinear().domain(c.yd).range([y1, y0]);
  const r = d3.scaleLinear().domain(c.rd).range([y1, y0]);
  const clip = `clip-${c.id}`;
  const serLine = d3.line<[number, number | null]>()
    .defined(d => d[1] != null)
    .x(d => x(d[0]))
    .y(d => r(d[1] as number));
  // loading curve is smooth between the sampled points, sharp at the drops
  const stressLine = d3.line<number>().x((_, i) => x(c.st[i])).y(d => y(d)).curve(d3.curveMonotoneX);
  const [lx, ly, lw, lh, lf, ll] = c.leg;
  const rows = ['应力', ...c.ser.map(s => s.name)];
  const rh = lh / rows.length;
  const axisCol = '#333';
  const tf = 17.5;

  return (
    <g>
      <defs>
        <clipPath id={clip}><rect x={x0} y={y0} width={x1 - x0} height={y1 - y0} /></clipPath>
      </defs>
      <rect x={x0} y={y0} width={x(c.band[0]) - x0} height={y1 - y0} fill={c.bandCol[0]} />
      <rect x={x(c.band[0])} y={y0} width={x(c.band[1]) - x(c.band[0])} height={y1 - y0} fill={c.bandCol[1]} />
      <rect x={x(c.band[1])} y={y0} width={x1 - x(c.band[1])} height={y1 - y0} fill={c.bandCol[2]} />

      <g clipPath={`url(#${clip})`}>
        {c.ser.map(s => (
          <g key={s.name}>
            <path d={serLine(s.t.map((t, i) => [t, s.v[i]] as [number, number | null])) || ''}
              fill="none" stroke={s.st.color} strokeWidth={1.3} strokeDasharray={DASH[s.st.dash]} />
            {s.t.map((t, i) => s.v[i] == null ? null : (
              <Marker key={i} kind={s.st.marker} x={x(t)} y={r(s.v[i] as number)} size={c.mk} color={s.st.color} />
            ))}
          </g>
        ))}
        <path d={stressLine(c.sv) || ''} fill="none" stroke={RED} strokeWidth={3.2} strokeLinejoin="round" />
      </g>

      <rect x={x0} y={y0} width={x1 - x0} height={y1 - y0} fill="none" stroke={axisCol} strokeWidth={1.3} />

      {/* bottom axis */}
      {c.xt.map(t => <line key={'xt' + t} x1={x(t)} x2={x(t)} y1={y1} y2={y1 + 5} stroke={axisCol} strokeWidth={1.1} />)}
      {minorTicks(c.xd, c.xm, c.xt).map(t => <line key={'xm' + t} x1={x(t)} x2={x(t)} y1={y1} y2={y1 + 3} stroke={axisCol} strokeWidth={1} />)}
      {c.xt.map(t => c.xrot ? (
        <text key={'xl' + t} transform={`translate(${x(t) + 9},${y1 + 14}) rotate(${c.xrot})`} textAnchor="end" fontSize={tf}>{fmtInt(t)}</text>
      ) : (
        <text key={'xl' + t} x={x(t)} y={y1 + 22} textAnchor="middle" fontSize={tf}>{fmtInt(t)}</text>
      ))}

      {/* left axis */}
      {c.yt.map(v => <line key={'yt' + v} x1={x0 - 5} x2={x0} y1={y(v)} y2={y(v)} stroke={axisCol} strokeWidth={1.1} />)}
      {minorTicks(c.yd, c.ym, c.yt).map(v => <line key={'ym' + v} x1={x0 - 3} x2={x0} y1={y(v)} y2={y(v)} stroke={axisCol} strokeWidth={1} />)}
      {c.yt.map(v => <text key={'yl' + v} x={x0 - 7} y={y(v)} dy="0.35em" textAnchor="end" fontSize={tf}>{fmtInt(v)}</text>)}

      {/* right axis */}
      {c.rt.map(v => <line key={'rt' + v} x1={x1} x2={x1 + 5} y1={r(v)} y2={r(v)} stroke={axisCol} strokeWidth={1.1} />)}
      {minorTicks(c.rd, c.rm, c.rt).map(v => <line key={'rm' + v} x1={x1} x2={x1 + 3} y1={r(v)} y2={r(v)} stroke={axisCol} strokeWidth={1} />)}
      {c.rt.map(v => <text key={'rl' + v} x={x1 + 6} y={r(v)} dy="0.35em" textAnchor="start" fontSize={tf}>{c.rf(v)}</text>)}

      {/* legend */}
      <rect x={lx} y={ly} width={lw} height={lh} fill="#fff" stroke="#444" strokeWidth={0.9} />
      {rows.map((n, i) => {
        const cy = ly + rh * (i + 0.5);
        if (i === 0) {
          return (
            <g key={n}>
              <line x1={lx + 2} x2={lx + ll} y1={cy} y2={cy} stroke={RED} strokeWidth={3} />
              <text x={lx + ll + 2} y={cy} dy="0.35em" fontSize={lf}>{n}</text>
            </g>
          );
        }
        const s = c.ser[i - 1];
        return (
          <g key={n}>
            <line x1={lx + 2} x2={lx + ll} y1={cy} y2={cy} stroke={s.st.color} strokeWidth={1.3} strokeDasharray={DASH[s.st.dash]} />
            <Marker kind={s.st.marker} x={lx + 2 + (ll - 2) / 2} y={cy} size={c.mk} color={s.st.color} />
            <text x={lx + ll + 2} y={cy} dy="0.35em" fontSize={lf}>{n}</text>
          </g>
        );
      })}

      {/* annotations */}
      {c.notes.map(([t, nx, ny]) => (
        <text key={t} x={nx} y={ny} fontSize={16}>
          <tspan fontStyle="italic">t</tspan>={t} s
        </text>
      ))}

      {/* titles */}
      <text x={c.xl[0]} y={c.xl[1]} textAnchor="middle" fontSize={18}>时间/s</text>
      <text x={c.cap[1]} y={c.cap[2]} textAnchor="middle" fontSize={19}>{c.cap[0]}</text>
      {c.ll.map(([t, lx2, ly2, sup]) => (
        <text key={t} transform={`translate(${lx2},${ly2}) rotate(-90)`} textAnchor="middle" dy="0.35em" fontSize={18}>
          {t}{sup ? <tspan dy={-7} fontSize={11}>−6</tspan> : null}
        </text>
      ))}
      {c.rl ? (
        <text transform={`translate(${c.rl[0]},${c.rl[1]}) rotate(-90)`} textAnchor="middle" dy="0.35em" fontSize={18}>电极电流/mA</text>
      ) : null}
    </g>
  );
}

export default function App() {
  return (
    <svg width={1209} height={1339} style={{ position: 'absolute', left: 0, top: 0, background: '#fff' }}
      fontFamily={FONT} fill="#111">
      <rect width={1209} height={1339} fill="#fff" />
      {panels.map(c => <Panel key={c.id} c={c} />)}
    </svg>
  );
}
